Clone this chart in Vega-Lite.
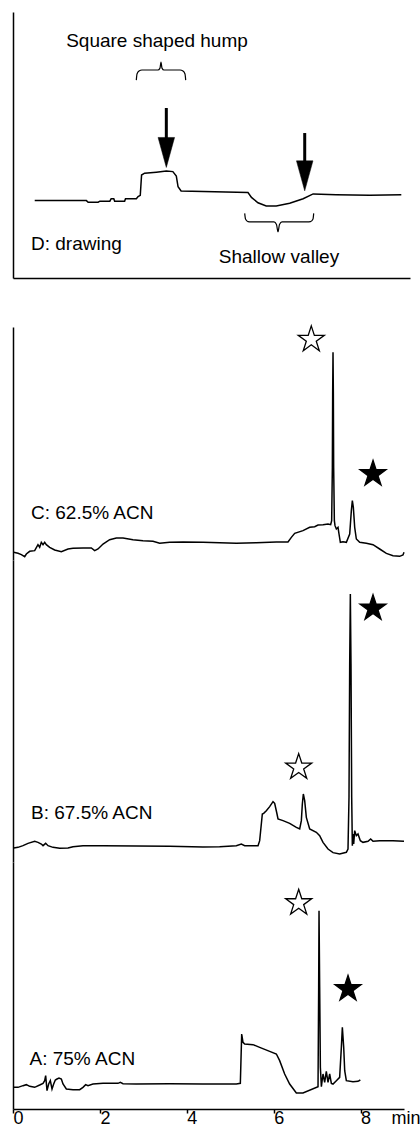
{
  "$schema": "https://vega.github.io/schema/vega-lite/v6.json",
  "background": "white",
  "padding": {"left": 10, "top": 12, "right": 0, "bottom": 0},
  "config": {
    "view": {"stroke": null},
    "font": "Liberation Sans",
    "axis": {"grid": false, "domainColor": "black", "domainWidth": 1.5, "ticks": false, "labels": false, "title": null}
  },
  "datasets": {
    "traces": [
      {"run":"D","t":0.50,"signal":29.1},{"run":"D","t":1.69,"signal":29.1},{"run":"D","t":1.73,"signal":28.5},{"run":"D","t":1.96,"signal":28.5},{"run":"D","t":2.00,"signal":28.9},{"run":"D","t":2.23,"signal":28.9},{"run":"D","t":2.26,"signal":29.8},{"run":"D","t":2.32,"signal":29.8},{"run":"D","t":2.34,"signal":28.9},{"run":"D","t":2.57,"signal":28.9},{"run":"D","t":2.59,"signal":29.8},{"run":"D","t":2.84,"signal":29.8},{"run":"D","t":2.88,"signal":30.6},{"run":"D","t":2.93,"signal":31.1},{"run":"D","t":2.96,"signal":38.7},{"run":"D","t":3.03,"signal":39.4},{"run":"D","t":3.30,"signal":39.8},{"run":"D","t":3.53,"signal":40.2},{"run":"D","t":3.68,"signal":40.0},{"run":"D","t":3.76,"signal":38.3},{"run":"D","t":3.80,"signal":34.3},{"run":"D","t":3.87,"signal":32.7},{"run":"D","t":5.41,"signal":32.1},{"run":"D","t":5.49,"signal":30.3},{"run":"D","t":5.64,"signal":28.3},{"run":"D","t":5.83,"signal":27.1},{"run":"D","t":6.06,"signal":27.1},{"run":"D","t":6.37,"signal":28.1},{"run":"D","t":6.68,"signal":29.8},{"run":"D","t":6.91,"signal":31.6},{"run":"D","t":7.44,"signal":31.3},{"run":"D","t":8.21,"signal":31.1},{"run":"D","t":8.94,"signal":31.3},

      {"run":"C","t":0.015,"signal":3.83},{"run":"C","t":0.115,"signal":3.33},{"run":"C","t":0.192,"signal":2.67},{"run":"C","t":0.269,"signal":1.67},{"run":"C","t":0.307,"signal":3.0},{"run":"C","t":0.384,"signal":4.33},{"run":"C","t":0.499,"signal":4.67},{"run":"C","t":0.575,"signal":7.67},{"run":"C","t":0.614,"signal":6.33},{"run":"C","t":0.652,"signal":8.83},{"run":"C","t":0.691,"signal":7.67},{"run":"C","t":0.729,"signal":8.83},{"run":"C","t":0.767,"signal":7.67},{"run":"C","t":0.844,"signal":6.33},{"run":"C","t":0.959,"signal":5.0},{"run":"C","t":1.113,"signal":4.17},{"run":"C","t":1.266,"signal":5.5},{"run":"C","t":1.381,"signal":5.83},{"run":"C","t":1.611,"signal":6.0},{"run":"C","t":1.803,"signal":6.0},{"run":"C","t":1.880,"signal":4.67},{"run":"C","t":1.957,"signal":5.5},{"run":"C","t":2.072,"signal":8.0},{"run":"C","t":2.225,"signal":10.17},{"run":"C","t":2.379,"signal":11.0},{"run":"C","t":2.532,"signal":11.0},{"run":"C","t":2.762,"signal":10.17},{"run":"C","t":2.992,"signal":9.67},{"run":"C","t":3.223,"signal":9.33},{"run":"C","t":3.376,"signal":8.33},{"run":"C","t":3.606,"signal":8.83},{"run":"C","t":3.913,"signal":9.0},{"run":"C","t":4.373,"signal":8.83},{"run":"C","t":4.757,"signal":8.67},{"run":"C","t":5.141,"signal":8.33},{"run":"C","t":5.601,"signal":8.67},{"run":"C","t":6.062,"signal":9.0},{"run":"C","t":6.330,"signal":9.0},{"run":"C","t":6.407,"signal":11.33},{"run":"C","t":6.484,"signal":13.33},{"run":"C","t":6.675,"signal":14.67},{"run":"C","t":6.829,"signal":16.33},{"run":"C","t":6.944,"signal":16.67},{"run":"C","t":7.021,"signal":17.5},{"run":"C","t":7.136,"signal":17.67},{"run":"C","t":7.251,"signal":18.0},{"run":"C","t":7.312,"signal":17.67},{"run":"C","t":7.335,"signal":19.67},{"run":"C","t":7.351,"signal":46.33},{"run":"C","t":7.358,"signal":83.0},{"run":"C","t":7.366,"signal":103.83},{"run":"C","t":7.374,"signal":83.0},{"run":"C","t":7.381,"signal":46.33},{"run":"C","t":7.397,"signal":19.67},{"run":"C","t":7.412,"signal":17.17},{"run":"C","t":7.443,"signal":15.5},{"run":"C","t":7.481,"signal":16.33},{"run":"C","t":7.504,"signal":13.0},{"run":"C","t":7.535,"signal":8.83},{"run":"C","t":7.596,"signal":9.17},{"run":"C","t":7.673,"signal":8.83},{"run":"C","t":7.750,"signal":13.0},{"run":"C","t":7.788,"signal":24.67},{"run":"C","t":7.811,"signal":29.67},{"run":"C","t":7.834,"signal":26.33},{"run":"C","t":7.865,"signal":16.33},{"run":"C","t":7.903,"signal":10.5},{"run":"C","t":7.980,"signal":8.83},{"run":"C","t":8.133,"signal":8.33},{"run":"C","t":8.287,"signal":7.67},{"run":"C","t":8.440,"signal":5.5},{"run":"C","t":8.594,"signal":3.33},{"run":"C","t":8.747,"signal":2.17},{"run":"C","t":8.900,"signal":1.83},{"run":"C","t":8.977,"signal":2.5},{"run":"C","t":9.000,"signal":3.83},

      {"run":"B","t":0.015,"signal":7.0},{"run":"B","t":0.115,"signal":7.33},{"run":"B","t":0.230,"signal":8.17},{"run":"B","t":0.345,"signal":9.33},{"run":"B","t":0.499,"signal":10.33},{"run":"B","t":0.575,"signal":9.83},{"run":"B","t":0.652,"signal":9.0},{"run":"B","t":0.691,"signal":8.17},{"run":"B","t":0.752,"signal":9.33},{"run":"B","t":0.806,"signal":8.17},{"run":"B","t":0.921,"signal":7.33},{"run":"B","t":1.074,"signal":6.83},{"run":"B","t":1.266,"signal":7.0},{"run":"B","t":1.381,"signal":7.67},{"run":"B","t":1.611,"signal":8.17},{"run":"B","t":2.072,"signal":8.17},{"run":"B","t":2.839,"signal":8.0},{"run":"B","t":3.606,"signal":7.83},{"run":"B","t":4.373,"signal":7.5},{"run":"B","t":4.757,"signal":7.67},{"run":"B","t":5.141,"signal":8.17},{"run":"B","t":5.256,"signal":9.0},{"run":"B","t":5.333,"signal":8.17},{"run":"B","t":5.640,"signal":8.17},{"run":"B","t":5.678,"signal":10.67},{"run":"B","t":5.739,"signal":24.0},{"run":"B","t":5.770,"signal":24.33},{"run":"B","t":5.831,"signal":25.67},{"run":"B","t":5.908,"signal":27.67},{"run":"B","t":5.985,"signal":30.17},{"run":"B","t":6.023,"signal":29.33},{"run":"B","t":6.077,"signal":24.0},{"run":"B","t":6.100,"signal":21.5},{"run":"B","t":6.215,"signal":20.67},{"run":"B","t":6.368,"signal":19.33},{"run":"B","t":6.522,"signal":17.33},{"run":"B","t":6.599,"signal":16.5},{"run":"B","t":6.637,"signal":20.67},{"run":"B","t":6.660,"signal":29.0},{"run":"B","t":6.683,"signal":34.0},{"run":"B","t":6.714,"signal":30.67},{"run":"B","t":6.752,"signal":22.33},{"run":"B","t":6.829,"signal":16.5},{"run":"B","t":6.982,"signal":14.83},{"run":"B","t":7.059,"signal":13.17},{"run":"B","t":7.136,"signal":9.83},{"run":"B","t":7.251,"signal":6.5},{"run":"B","t":7.366,"signal":4.67},{"run":"B","t":7.519,"signal":4.0},{"run":"B","t":7.673,"signal":4.83},{"run":"B","t":7.711,"signal":6.5},{"run":"B","t":7.734,"signal":32.33},{"run":"B","t":7.750,"signal":99.0},{"run":"B","t":7.765,"signal":134.0},{"run":"B","t":7.780,"signal":99.0},{"run":"B","t":7.796,"signal":32.33},{"run":"B","t":7.811,"signal":8.17},{"run":"B","t":7.826,"signal":14.0},{"run":"B","t":7.842,"signal":9.0},{"run":"B","t":7.865,"signal":15.67},{"run":"B","t":7.903,"signal":13.17},{"run":"B","t":7.941,"signal":14.0},{"run":"B","t":7.995,"signal":10.67},{"run":"B","t":8.056,"signal":9.83},{"run":"B","t":8.172,"signal":10.33},{"run":"B","t":8.233,"signal":11.5},{"run":"B","t":8.287,"signal":10.33},{"run":"B","t":8.440,"signal":10.67},{"run":"B","t":8.747,"signal":10.67},{"run":"B","t":9.000,"signal":10.33},

      {"run":"A","t":0.0,"signal":10.83},{"run":"A","t":0.115,"signal":10.83},{"run":"A","t":0.230,"signal":11.67},{"run":"A","t":0.307,"signal":12.17},{"run":"A","t":0.384,"signal":11.33},{"run":"A","t":0.499,"signal":10.83},{"run":"A","t":0.614,"signal":12.0},{"run":"A","t":0.691,"signal":12.83},{"run":"A","t":0.729,"signal":14.17},{"run":"A","t":0.752,"signal":16.67},{"run":"A","t":0.783,"signal":9.17},{"run":"A","t":0.821,"signal":12.5},{"run":"A","t":0.859,"signal":14.17},{"run":"A","t":0.898,"signal":10.0},{"run":"A","t":0.936,"signal":12.5},{"run":"A","t":0.974,"signal":14.5},{"run":"A","t":1.013,"signal":15.0},{"run":"A","t":1.059,"signal":15.5},{"run":"A","t":1.113,"signal":15.0},{"run":"A","t":1.151,"signal":12.5},{"run":"A","t":1.228,"signal":10.0},{"run":"A","t":1.381,"signal":9.67},{"run":"A","t":1.535,"signal":9.67},{"run":"A","t":1.611,"signal":10.83},{"run":"A","t":1.673,"signal":12.17},{"run":"A","t":1.726,"signal":11.67},{"run":"A","t":1.841,"signal":12.5},{"run":"A","t":2.072,"signal":12.83},{"run":"A","t":2.417,"signal":12.83},{"run":"A","t":2.471,"signal":13.33},{"run":"A","t":2.532,"signal":12.67},{"run":"A","t":2.839,"signal":12.5},{"run":"A","t":3.606,"signal":12.67},{"run":"A","t":4.373,"signal":12.5},{"run":"A","t":5.141,"signal":12.5},{"run":"A","t":5.233,"signal":12.83},{"run":"A","t":5.264,"signal":37.5},{"run":"A","t":5.294,"signal":33.33},{"run":"A","t":5.333,"signal":32.5},{"run":"A","t":5.524,"signal":32.17},{"run":"A","t":5.678,"signal":30.83},{"run":"A","t":5.908,"signal":28.83},{"run":"A","t":6.062,"signal":27.5},{"run":"A","t":6.138,"signal":24.17},{"run":"A","t":6.253,"signal":17.5},{"run":"A","t":6.368,"signal":12.5},{"run":"A","t":6.522,"signal":8.0},{"run":"A","t":6.675,"signal":8.0},{"run":"A","t":7.021,"signal":11.17},{"run":"A","t":7.036,"signal":60.83},{"run":"A","t":7.044,"signal":99.17},{"run":"A","t":7.059,"signal":60.83},{"run":"A","t":7.075,"signal":20.83},{"run":"A","t":7.098,"signal":11.17},{"run":"A","t":7.136,"signal":17.5},{"run":"A","t":7.174,"signal":13.33},{"run":"A","t":7.212,"signal":18.83},{"run":"A","t":7.251,"signal":13.33},{"run":"A","t":7.289,"signal":17.5},{"run":"A","t":7.328,"signal":12.83},{"run":"A","t":7.366,"signal":12.5},{"run":"A","t":7.443,"signal":14.17},{"run":"A","t":7.519,"signal":15.83},{"run":"A","t":7.558,"signal":30.83},{"run":"A","t":7.581,"signal":40.83},{"run":"A","t":7.612,"signal":30.83},{"run":"A","t":7.635,"signal":19.17},{"run":"A","t":7.673,"signal":14.17},{"run":"A","t":7.826,"signal":13.67},{"run":"A","t":7.941,"signal":13.83},{"run":"A","t":7.995,"signal":14.5}
    ],
    "stars": [
      {"run":"C","kind":"open","t":6.866,"signal":110.2},{"run":"C","kind":"filled","t":8.287,"signal":43.0},
      {"run":"B","kind":"open","t":6.576,"signal":47.35},{"run":"B","kind":"filled","t":8.287,"signal":126.85},
      {"run":"A","kind":"open","t":6.576,"signal":103.0},{"run":"A","kind":"filled","t":7.711,"signal":60.0}
    ],
    "labels": [
      {"run":"C","label":"C: 62.5% ACN","t":0.414,"signal":20.5},
      {"run":"B","label":"B: 67.5% ACN","t":0.414,"signal":21.5},
      {"run":"A","label":"A: 75% ACN","t":0.38,"signal":22.2}
    ]
  },
  "vconcat": [
    {
      "width": 397,
      "height": 266,
      "layer": [
        {
          "data": {"name": "traces"},
          "transform": [{"filter": "datum.run === 'D'"}],
          "mark": {"type": "line", "color": "black", "strokeWidth": 1.5},
          "encoding": {
            "x": {"field": "t", "type": "quantitative", "scale": {"domain": [0, 9.14], "nice": false, "zero": false}, "axis": {"domain": true}},
            "y": {"field": "signal", "type": "quantitative", "scale": {"domain": [0, 100], "nice": false}, "axis": {"domain": true}}
          }
        },
        {
          "data": {"values": [
            {"brace":"hump","t":2.839,"v":74.4},{"brace":"hump","t":2.855,"v":76.7},{"brace":"hump","t":2.901,"v":77.8},{"brace":"hump","t":2.970,"v":78.2},{"brace":"hump","t":3.338,"v":78.2},{"brace":"hump","t":3.384,"v":78.9},{"brace":"hump","t":3.407,"v":81.2},{"brace":"hump","t":3.430,"v":78.9},{"brace":"hump","t":3.476,"v":78.2},{"brace":"hump","t":3.845,"v":78.2},{"brace":"hump","t":3.914,"v":77.8},{"brace":"hump","t":3.960,"v":76.7},{"brace":"hump","t":3.976,"v":74.4},
            {"brace":"valley","t":5.334,"v":24.3},{"brace":"valley","t":5.353,"v":22.2},{"brace":"valley","t":5.410,"v":21.2},{"brace":"valley","t":5.479,"v":21.1},{"brace":"valley","t":6.009,"v":21.1},{"brace":"valley","t":6.066,"v":20.1},{"brace":"valley","t":6.101,"v":17.4},{"brace":"valley","t":6.135,"v":20.1},{"brace":"valley","t":6.193,"v":21.1},{"brace":"valley","t":6.769,"v":21.1},{"brace":"valley","t":6.849,"v":21.2},{"brace":"valley","t":6.907,"v":22.2},{"brace":"valley","t":6.923,"v":24.3}
          ]},
          "mark": {"type": "line", "color": "black", "strokeWidth": 1.2, "interpolate": "monotone"},
          "encoding": {
            "x": {"field": "t", "type": "quantitative"},
            "y": {"field": "v", "type": "quantitative"},
            "detail": {"field": "brace"}
          }
        },
        {
          "data": {"values": [
            {"t": 3.53, "top": 63.9, "bottom": 47.2},
            {"t": 6.716, "top": 54.5, "bottom": 38.4}
          ]},
          "mark": {"type": "rule", "color": "black", "strokeWidth": 3},
          "encoding": {
            "x": {"field": "t", "type": "quantitative"},
            "y": {"field": "top", "type": "quantitative"},
            "y2": {"field": "bottom"}
          }
        },
        {
          "data": {"values": [
            {"t": 3.53, "v": 47.2},
            {"t": 6.716, "v": 38.4}
          ]},
          "mark": {"type": "point", "shape": "M-0.55,-1L0.55,-1L0,1Z", "size": 900, "filled": true, "fill": "black", "stroke": "black", "strokeWidth": 0.5, "opacity": 1},
          "encoding": {
            "x": {"field": "t", "type": "quantitative"},
            "y": {"field": "v", "type": "quantitative"}
          }
        },
        {
          "data": {"values": [
            {"label": "Square shaped hump", "t": 3.315, "v": 86.8},
            {"label": "Shallow valley", "t": 6.124, "v": 5.6}
          ]},
          "mark": {"type": "text", "align": "center", "baseline": "alphabetic", "fontSize": 19, "font": "Liberation Sans", "color": "black"},
          "encoding": {
            "x": {"field": "t", "type": "quantitative"},
            "y": {"field": "v", "type": "quantitative"},
            "text": {"field": "label"}
          }
        },
        {
          "data": {"values": [
            {"label": "D: drawing", "t": 0.414, "v": 10.5}
          ]},
          "mark": {"type": "text", "align": "left", "baseline": "alphabetic", "fontSize": 19, "font": "Liberation Sans", "color": "black"},
          "encoding": {
            "x": {"field": "t", "type": "quantitative"},
            "y": {"field": "v", "type": "quantitative"},
            "text": {"field": "label"}
          }
        }
      ]
    },
    {
      "spacing": 0,
      "vconcat": [
        {
          "width": 391,
          "height": 233,
          "layer": [
            {
              "data": {"name": "traces"},
              "transform": [{"filter": "datum.run === 'C'"}],
              "mark": {"type": "line", "color": "black", "strokeWidth": 1.5},
              "encoding": {
                "x": {"field": "t", "type": "quantitative", "scale": {"domain": [0, 9], "nice": false}, "axis": null},
                "y": {"field": "signal", "type": "quantitative", "scale": {"domain": [0, 116.5], "nice": false}, "axis": {"domain": true}}
              }
            },
            {
              "data": {"name": "stars"},
              "transform": [{"filter": "datum.run === 'C'"}],
              "mark": {"type": "point", "shape": "M0,-1L0.2245,-0.309L0.9511,-0.309L0.3633,0.118L0.5878,0.809L0,0.382L-0.5878,0.809L-0.3633,0.118L-0.9511,-0.309L-0.2245,-0.309Z", "size": 750, "filled": true, "stroke": "black", "strokeWidth": 1.3, "opacity": 1},
              "encoding": {
                "x": {"field": "t", "type": "quantitative"},
                "y": {"field": "signal", "type": "quantitative"},
                "fill": {"field": "kind", "type": "nominal", "scale": {"domain": ["open", "filled"], "range": ["white", "black"]}, "legend": null}
              }
            },
            {
              "data": {"name": "labels"},
              "transform": [{"filter": "datum.run === 'C'"}],
              "mark": {"type": "text", "align": "left", "baseline": "alphabetic", "fontSize": 19, "font": "Liberation Sans", "color": "black"},
              "encoding": {
                "x": {"field": "t", "type": "quantitative"},
                "y": {"field": "signal", "type": "quantitative"},
                "text": {"field": "label"}
              }
            }
          ]
        },
        {
          "width": 391,
          "height": 302,
          "layer": [
            {
              "data": {"name": "traces"},
              "transform": [{"filter": "datum.run === 'B'"}],
              "mark": {"type": "line", "color": "black", "strokeWidth": 1.5},
              "encoding": {
                "x": {"field": "t", "type": "quantitative", "scale": {"domain": [0, 9], "nice": false}, "axis": null},
                "y": {"field": "signal", "type": "quantitative", "scale": {"domain": [0, 151], "nice": false}, "axis": {"domain": true}}
              }
            },
            {
              "data": {"name": "stars"},
              "transform": [{"filter": "datum.run === 'B'"}],
              "mark": {"type": "point", "shape": "M0,-1L0.2245,-0.309L0.9511,-0.309L0.3633,0.118L0.5878,0.809L0,0.382L-0.5878,0.809L-0.3633,0.118L-0.9511,-0.309L-0.2245,-0.309Z", "size": 750, "filled": true, "stroke": "black", "strokeWidth": 1.3, "opacity": 1},
              "encoding": {
                "x": {"field": "t", "type": "quantitative"},
                "y": {"field": "signal", "type": "quantitative"},
                "fill": {"field": "kind", "type": "nominal", "scale": {"domain": ["open", "filled"], "range": ["white", "black"]}, "legend": null}
              }
            },
            {
              "data": {"name": "labels"},
              "transform": [{"filter": "datum.run === 'B'"}],
              "mark": {"type": "text", "align": "left", "baseline": "alphabetic", "fontSize": 19, "font": "Liberation Sans", "color": "black"},
              "encoding": {
                "x": {"field": "t", "type": "quantitative"},
                "y": {"field": "signal", "type": "quantitative"},
                "text": {"field": "label"}
              }
            }
          ]
        },
        {
          "width": 391,
          "height": 247,
          "layer": [
            {
              "data": {"name": "traces"},
              "transform": [{"filter": "datum.run === 'A'"}],
              "mark": {"type": "line", "color": "black", "strokeWidth": 1.5},
              "encoding": {
                "x": {"field": "t", "type": "quantitative", "scale": {"domain": [0, 9], "nice": false},
                  "axis": {"domain": true, "values": [0, 2, 4, 6, 8], "ticks": true, "tickSize": 4, "tickColor": "black", "tickWidth": 1.5, "labels": true, "labelFontSize": 18, "labelFont": "Liberation Sans", "labelColor": "black", "labelAlign": "left", "labelBaseline": "alphabetic", "labelPadding": 10, "labelFlush": false, "labelOverlap": false, "title": "min", "titleFont": "Liberation Sans", "titleFontSize": 18, "titleFontWeight": "normal", "titleColor": "black", "titleAngle": 0, "titleAlign": "left", "titleBaseline": "alphabetic", "titleX": 378, "titleY": 14}},
                "y": {"field": "signal", "type": "quantitative", "scale": {"domain": [0, 123.5], "nice": false}, "axis": {"domain": true}}
              }
            },
            {
              "data": {"name": "stars"},
              "transform": [{"filter": "datum.run === 'A'"}],
              "mark": {"type": "point", "shape": "M0,-1L0.2245,-0.309L0.9511,-0.309L0.3633,0.118L0.5878,0.809L0,0.382L-0.5878,0.809L-0.3633,0.118L-0.9511,-0.309L-0.2245,-0.309Z", "size": 750, "filled": true, "stroke": "black", "strokeWidth": 1.3, "opacity": 1},
              "encoding": {
                "x": {"field": "t", "type": "quantitative"},
                "y": {"field": "signal", "type": "quantitative"},
                "fill": {"field": "kind", "type": "nominal", "scale": {"domain": ["open", "filled"], "range": ["white", "black"]}, "legend": null}
              }
            },
            {
              "data": {"name": "labels"},
              "transform": [{"filter": "datum.run === 'A'"}],
              "mark": {"type": "text", "align": "left", "baseline": "alphabetic", "fontSize": 19, "font": "Liberation Sans", "color": "black"},
              "encoding": {
                "x": {"field": "t", "type": "quantitative"},
                "y": {"field": "signal", "type": "quantitative"},
                "text": {"field": "label"}
              }
            }
          ]
        }
      ]
    }
  ],
  "spacing": 45
}
